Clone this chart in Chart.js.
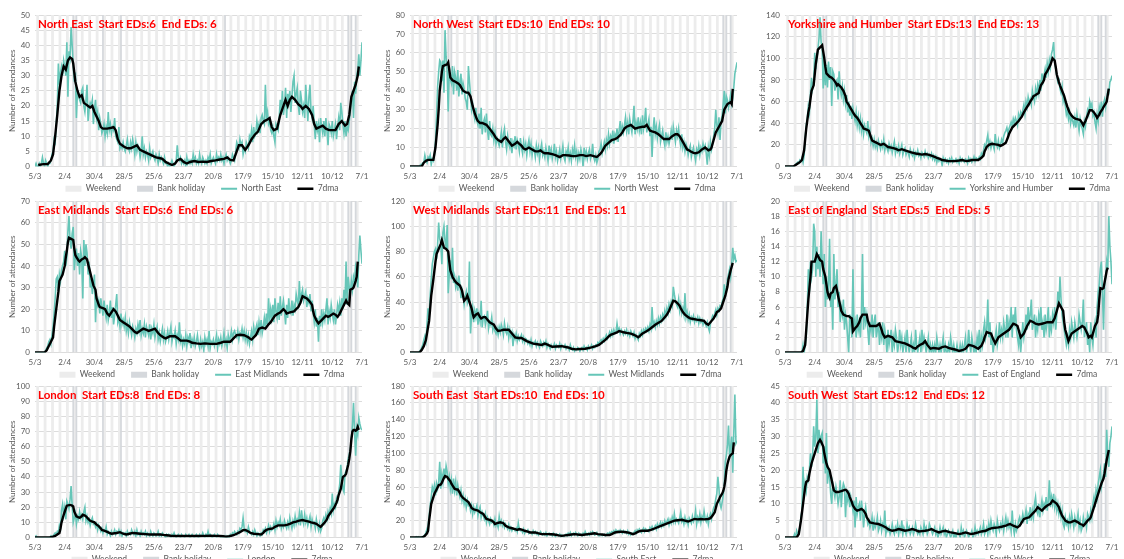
<!DOCTYPE html>
<html>
<head>
<meta charset="utf-8">
<script src="https://cdn.jsdelivr.net/npm/chart.js@4.4.0/dist/chart.umd.min.js"></script>
<style>
  body { margin: 0; background: #fff; width: 1124px; height: 559px; overflow: hidden; position: relative; }
  .panel { position: absolute; width: 374px; height: 217px; }
</style>
</head>
<body>
<script>
// x axis: day index, 0 = 5/3/2020 ... 308 = 7/1/2021
const tickLabels = ["5/3", "2/4", "30/4", "28/5", "25/6", "23/7", "20/8", "17/9", "15/10", "12/11", "10/12", "7/1"];
const dayCount = 309;
const bankHolidays = [36, 39, 64, 81, 179, 295, 298, 302];

const regionNames = ["North East", "North West", "Yorkshire and Humber", "East Midlands", "West Midlands", "East of England", "London", "South East", "South West"];
const startEDs = [6, 10, 13, 6, 11, 5, 8, 10, 12];
const endEDs = [6, 10, 13, 6, 11, 5, 8, 10, 12];
const yMax = [50, 80, 140, 70, 120, 20, 100, 180, 45];
const yStep = [5, 10, 20, 10, 20, 2, 10, 20, 5];

// daily attendances
const neDaily = [
  0,1,0,0,1,0,1, 3,1,0,2,1,0,1, 1,2,4,5,9,8,14, 20,34,27,31,33,30,35,
  33,30,41,23,38,36,46, 40,33,28,31,16,25,24, 22,21,25,26,20,18,22, 27,15,19,21,20,22,14,
  19,22,16,18,12,16,14, 11,12,14,10,13,11,18, 12,14,11,13,12,16,10, 9,8,13,6,7,6,8,
  6,5,7,9,6,5,8, 6,9,7,4,8,5,7, 6,3,5,10,4,6,3, 5,4,2,6,3,4,5,
  3,2,4,3,1,4,2, 3,2,1,3,1,1,0, 1,0,1,2,1,0,1, 2,7,3,2,3,1,2,
  1,2,0,3,1,2,1, 2,1,4,2,3,1,2, 1,4,2,1,3,2,1, 2,1,3,2,4,1,2,
  3,2,1,4,2,3,2, 4,2,3,1,3,4,2, 3,2,1,2,4,3,2, 5,8,7,6,9,7,8,
  4,6,5,8,7,6,10, 9,12,8,13,10,11,15, 12,14,11,16,17,15,14, 27,16,18,14,15,12,11,
  13,10,8,14,13,12,16, 22,18,25,17,20,26,16, 24,21,25,18,23,28,30, 21,24,26,20,17,25,22,
  18,20,16,27,21,15,23, 27,18,16,20,14,9,15, 12,14,8,16,13,11,15, 10,16,12,7,14,13,11,
  15,10,12,14,9,13,16, 12,21,18,14,11,15,10, 13,12,15,18,22,25,16, 28,24,30,32,37,30,35,
  41
];
const nwDaily = [
  0,0,0,0,0,0,0, 0,0,0,1,1,2,2, 6,3,2,5,4,6,1, 4,3,6,13,26,42,50,
  56,55,45,56,39,72,58, 50,29,52,46,44,53,38, 50,47,40,51,37,45,49, 38,44,41,36,34,30,53,
  45,38,30,33,28,25,31, 24,22,28,20,31,17,23, 25,18,28,19,14,24,17, 16,20,14,18,12,15,13,
  11,14,18,10,17,20,13, 9,16,12,10,15,7,13, 11,16,9,14,12,8,15, 10,7,13,9,12,6,11,
  14,8,12,6,10,9,5, 11,7,10,4,9,12,6, 8,5,10,7,3,11,6, 9,4,7,12,5,8,3,
  6,9,4,7,11,5,3, 8,6,10,4,7,3,9, 6,11,5,8,3,7,4, 9,6,0,10,5,8,4,
  7,9,4,6,12,5,3, 6,2,4,8,9,12,7, 10,13,9,14,11,17,12, 16,14,19,12,17,15,20,
  13,19,24,16,21,18,22, 26,19,23,17,25,21,18, 24,32,17,23,20,26,19, 23,17,27,20,24,31,18,
  22,25,16,21,5,19,26, 17,21,15,19,22,13,16, 19,14,11,18,13,16,12, 15,19,14,21,17,13,19,
  16,20,14,11,17,10,13, 8,12,10,6,9,11,5, 8,10,6,3,9,7,11, 6,10,8,12,9,11,7,
  1,10,6,13,9,12,16, 20,30,22,18,26,14,24, 27,33,40,28,37,35,31, 34,38,33,36,42,49,52,
  55
];
const yhDaily = [
  0,0,0,0,0,0,0, 0,0,1,2,3,4,3, 6,5,8,4,10,26,38, 45,56,50,68,82,72,78,
  105,90,100,108,118,138,115, 110,72,98,75,94,73,97, 80,92,56,88,85,70,78, 80,62,88,72,66,74,62,
  70,58,66,50,60,47,56, 44,54,48,42,50,38,46, 36,44,33,40,30,38,34, 31,42,28,33,22,26,19,
  25,18,22,17,24,20,16, 22,18,25,15,20,17,14, 21,16,19,13,18,23,12, 17,14,19,12,16,20,11,
  15,17,11,14,13,9,16, 12,10,14,8,13,11,15, 10,12,8,13,11,9,14, 10,12,8,11,9,12,7,
  10,6,9,4,8,5,7, 6,1,8,5,7,4,6, 3,7,5,8,4,6,5, 7,4,6,3,8,5,7,
  5,4,7,6,3,8,5, 7,4,6,9,5,8,7, 6,9,7,12,10,15,20, 18,24,29,19,23,17,22,
  20,16,30,21,18,24,17, 20,25,22,28,31,33,36, 30,35,38,41,37,44,40, 45,42,38,48,44,50,47,
  52,57,49,60,55,64,58, 62,57,70,64,60,72,66, 75,68,80,70,86,78,84, 90,82,95,88,98,92,104,
  108,115,96,90,84,78,80, 72,68,74,60,64,56,48, 52,44,50,40,46,42,38, 45,36,48,40,33,44,38,
  35,30,42,37,46,52,48, 60,55,58,47,50,41,35, 48,42,55,50,60,46,58, 62,55,64,70,68,78,80,
  84
];
const emDaily = [
  0,0,0,0,0,0,0, 0,0,0,1,2,3,5, 6,4,8,12,18,25,34, 35,28,36,33,38,40,42,
  47,40,44,56,63,52,48, 55,58,38,44,48,40,46, 36,47,44,25,52,40,50, 46,36,42,30,34,27,31,
  36,14,26,22,24,18,25, 21,17,24,19,16,22,15, 18,24,16,21,13,17,22, 27,14,16,12,18,13,15,
  12,16,10,13,9,14,11, 8,12,10,7,11,9,13, 10,15,8,11,9,13,7, 12,10,8,13,6,11,9,
  13,7,10,12,6,9,5, 8,11,6,9,5,7,10, 6,9,12,5,8,7,10, 4,8,6,14,5,7,3,
  6,4,8,3,7,5,9, 2,6,4,7,3,5,8, 4,2,6,3,5,1,7, 4,6,3,10,2,5,4,
  6,3,5,8,2,6,4, 7,3,5,9,4,6,2, 8,5,7,10,6,9,10, 8,7,10,6,9,8,11,
  7,10,6,9,5,8,4, 7,10,6,12,9,11,13, 8,14,10,15,9,12,16, 11,18,13,25,14,20,16,
  22,14,25,19,16,23,15, 26,17,21,24,19,13,22, 16,25,19,18,24,17,22, 20,27,24,22,33,23,27,
  29,24,26,28,21,25,23, 27,19,24,18,14,20,12, 16,5,17,12,20,14,18, 15,20,25,13,19,16,22,
  18,15,20,13,17,22,19, 23,17,25,20,29,24,42, 22,35,30,27,33,29,35, 33,40,38,30,45,54,47,
  41
];
const wmDaily = [
  0,0,0,0,0,0,0, 0,0,1,2,4,6,10, 13,9,22,35,28,46,58, 70,75,80,82,74,85,103,
  90,86,70,95,100,88,82, 101,47,62,73,58,83,55, 60,52,57,49,61,54,43, 50,46,38,44,48,39,42,
  72,15,30,36,24,33,28, 35,22,30,25,41,20,28, 29,22,26,33,19,24,22, 28,18,22,17,15,19,14,
  20,16,22,19,14,23,17, 15,20,12,18,13,16,5, 14,11,15,9,13,10,12, 14,9,12,8,11,10,7,
  9,6,10,5,8,7,9, 5,8,6,4,9,7,5, 8,6,9,4,7,5,3, 6,4,5,7,3,6,5,
  4,7,3,6,5,4,6, 3,5,4,2,6,3,2, 4,1,3,2,4,3,1, 3,4,2,5,3,4,2,
  5,3,4,6,3,5,4, 6,5,8,7,9,10,8, 11,9,12,14,11,13,16, 13,17,14,18,15,16,23,
  17,19,15,18,16,14,17, 15,18,14,16,13,17,15, 13,16,11,14,12,10,15, 13,17,14,18,16,19,17,
  20,17,22,19,36,21,24, 20,25,22,27,23,28,25, 30,27,33,29,35,31,38, 34,40,37,52,46,41,38,
  36,42,33,38,31,35,30, 47,28,32,26,30,24,28, 26,29,24,27,25,28,23, 27,24,26,22,25,23,21,
  24,20,17,23,26,29,27, 31,34,30,35,33,37,36, 40,43,54,46,50,58,62, 66,60,70,83,74,77,72,
  73
];
const eeDaily = [
  0,0,0,0,0,0,0, 0,0,0,0,0,0,0, 0,0,0,1,0,1,2, 6,11,8,12,10,11,17,
  16,10,14,11,13,10,16, 12,9,13,6,10,7,9, 15,6,8,3,13,7,9, 11,6,8,4,6,5,7,
  3,5,4,2,0,5,4, 2,11,3,4,2,5,3, 4,2,5,13,3,6,4, 5,3,1,4,3,5,2,
  4,5,2,3,4,1,3, 2,4,1,3,2,0,3, 1,2,3,0,2,1,3, 2,0,1,3,1,2,0,
  1,2,0,3,1,0,1, 2,0,1,0,3,1,0, 1,2,0,3,1,2,1, 0,1,2,0,1,0,1,
  0,1,0,2,1,0,1, 0,1,2,0,1,0,0, 1,0,2,1,0,1,0, 0,1,0,0,1,0,1,
  0,1,2,0,1,3,1, 0,2,1,0,1,0,2, 1,3,0,2,1,3,4, 2,3,7,2,4,1,2,
  0,1,2,3,1,2,4, 2,3,2,4,3,2,5, 2,4,3,6,2,5,4, 6,3,2,1,3,0,2,
  4,2,3,5,3,6,4, 5,7,3,4,5,2,4, 3,5,4,6,3,4,2, 5,3,4,6,2,4,3,
  5,4,6,3,5,8,6, 10,7,5,4,3,2,1, 2,1,3,2,4,3,2, 4,3,2,3,5,4,3,
  4,7,2,3,4,1,2, 0,4,2,1,3,4,2, 6,8,9,11,12,8,3, 9,10,12,11,18,14,12,
  9
];
const lonDaily = [
  0,1,0,0,0,0,0, 0,0,0,0,0,0,0, 0,1,0,1,2,3,2, 4,3,8,6,18,22,15,
  20,12,24,22,19,25,34, 21,10,13,16,9,14,12, 17,13,15,12,17,20,11, 14,10,12,8,11,13,9,
  10,7,9,5,8,6,4, 6,3,5,4,7,2,4, 3,1,4,2,3,5,2, 4,3,5,2,4,1,3,
  2,3,1,4,2,3,2, 5,3,2,4,1,5,2, 3,1,4,2,3,2,4, 1,3,2,1,4,2,1,
  3,2,1,2,4,1,2, 1,3,2,1,0,2,1, 2,1,0,2,1,3,1, 0,1,2,1,0,2,1,
  1,0,2,1,1,2,0, 1,2,1,0,1,2,1, 0,2,1,1,3,1,0, 2,1,4,1,2,1,0,
  1,2,1,0,2,1,1, 0,1,0,1,0,1,0, 1,0,2,1,3,2,4, 3,2,4,3,6,5,7,
  13,6,4,5,3,7,4, 3,2,4,2,5,3,1, 3,2,1,3,2,5,4, 6,3,5,8,4,7,5,
  6,9,5,11,7,10,8, 12,6,9,7,11,8,6, 10,7,13,9,6,11,8, 14,9,12,10,16,8,18,
  12,9,15,10,13,8,11, 14,7,12,9,10,6,12, 8,5,9,4,6,11,13, 10,15,12,17,14,19,16,
  29,18,22,20,26,24,30, 35,48,40,32,30,42,44, 46,52,55,58,65,74,89, 70,54,72,68,79,75,72,
  71
];
const seDaily = [
  0,0,0,0,0,0,1, 0,1,0,0,1,0,2, 3,6,10,14,25,38,48, 60,55,62,50,64,58,66,
  90,58,75,66,82,70,85, 78,64,72,58,68,52,70, 56,66,50,62,54,48,56, 44,50,40,46,36,44,38,
  40,32,38,28,36,30,34, 38,26,32,36,24,30,26, 22,28,18,24,20,16,22, 18,20,15,22,14,17,12,
  25,16,20,14,18,12,16, 13,10,15,9,12,8,11, 10,8,11,7,17,9,8, 9,6,10,5,8,7,9,
  5,7,6,4,8,5,7, 4,6,3,5,7,4,3, 5,3,6,2,4,5,3, 4,2,5,3,1,4,3,
  2,4,1,3,2,1,3, 4,2,5,3,6,2,4, 5,3,6,4,2,5,3, 4,2,5,3,7,4,3,
  5,3,6,4,7,5,3, 4,6,3,2,4,3,2, 3,4,2,3,5,4,6, 5,7,6,8,5,9,7,
  8,6,9,7,5,8,6, 7,5,8,4,6,3,5, 4,6,8,5,9,7,10, 8,6,9,11,7,10,8,
  9,7,12,10,13,9,11, 14,10,16,12,15,18,13, 17,14,20,16,19,22,15, 21,17,24,19,28,18,22,
  20,17,23,30,19,22,16, 24,18,21,15,23,20,17, 25,19,22,32,16,24,20, 28,18,25,21,31,22,19,
  25,16,24,28,22,30,35, 38,46,52,72,58,40,35, 42,50,62,90,98,110,133, 95,108,120,77,125,170,112,
  115
];
const swDaily = [
  0,0,0,0,0,0,0, 0,0,1,0,2,1,1, 3,6,8,21,12,16,14, 18,17,20,25,21,24,33,
  27,30,41,25,32,28,30, 31,22,27,19,31,16,20, 18,13,10,16,14,12,15, 13,10,12,17,9,14,16,
  15,6,13,11,14,9,12, 10,8,11,3,12,7,9, 10,5,11,8,3,7,9, 6,4,5,3,4,6,2,
  5,3,4,6,2,3,5, 2,4,3,8,1,3,2, 3,1,2,4,2,1,3, 2,4,1,3,2,5,1,
  3,2,1,4,2,3,1, 2,3,1,2,4,2,1, 2,1,3,2,1,4,2, 3,1,2,4,3,2,1,
  2,3,1,2,0,1,3, 1,2,3,1,2,0,1, 2,1,0,1,2,0,1, 0,1,2,1,0,3,1,
  2,0,1,2,1,0,1, 1,2,0,1,3,1,2, 1,2,3,1,2,4,1, 2,3,1,4,2,5,3,
  2,4,3,1,5,3,2, 4,3,5,2,4,6,3, 5,3,4,2,8,3,1, 4,2,3,5,6,4,5,
  7,5,6,8,4,7,6, 9,5,8,6,10,12,8, 7,10,6,9,11,8,10, 9,12,8,11,17,9,12,
  10,13,9,11,8,10,7, 9,6,8,4,3,6,4, 5,3,6,4,7,5,3, 6,4,5,7,3,5,2,
  3,6,4,5,3,7,6, 5,8,6,10,12,9,14, 12,16,18,20,15,17,19, 22,18,32,24,21,28,30,
  33
];

// 7 day moving average, [day, value] read at intervals
const ne7dma = [[3,0.5],[8,0.8],[12,0.8],[15,2],[17,4],[19,10],[21,17],[23,25],[25,30],[27,33],[29,32],[31,35],[33,36],[35,35.5],[36,34],[38,28],[40,25],[42,23],[44,23.5],[46,21],[48,20.5],[50,20],[52,19.5],[54,20],[56,18],[58,16.5],[60,15],[62,13],[64,12.5],[68,12.5],[72,12.8],[74,13],[76,12],[78,9],[80,7.5],[82,7],[84,6.5],[87,6],[90,6],[93,6.5],[96,7],[99,5.5],[102,5],[105,4.5],[108,4],[111,3.5],[114,3],[117,2.8],[120,2.5],[123,1.5],[126,1],[129,0.5],[132,1],[134,2],[137,2.5],[140,1.5],[143,1],[146,1.5],[150,1.8],[154,1.5],[158,1.6],[162,1.5],[166,1.8],[170,2],[174,2.3],[178,2.5],[181,3],[184,2.2],[187,2],[190,5],[192,7],[195,7],[198,5.5],[201,7],[204,9],[207,10.5],[210,11.5],[213,14],[216,15],[219,15.5],[221,16],[223,13],[225,12],[228,12.5],[231,17],[234,20],[236,22],[238,20],[240,22],[242,23],[245,22],[248,20.5],[250,20],[252,19],[255,20],[258,19],[261,17],[263,14],[265,12.5],[268,13],[271,13.5],[274,12.5],[277,12],[280,12],[283,12],[286,14],[289,15],[292,13.5],[294,14],[296,17],[298,23],[300,25],[302,27],[304,30],[305,33]];
const nw7dma = [[0,0],[11,0],[13,2],[15,3],[17,3.5],[20,3.5],[22,3.5],[24,10],[26,22],[27,30],[28,40],[30,50],[31,53],[33,53.5],[35,54],[36,55],[38,47],[40,45.5],[42,45],[45,44],[47,43],[50,40],[53,39],[55,39],[57,37],[59,32],[61,28],[63,25],[64,24],[66,23],[68,23],[70,22.5],[72,22],[75,20],[77,18.5],[79,17],[81,15],[83,14],[86,13],[88,14.5],[90,15.5],[92,14],[94,12.5],[96,11],[99,12],[101,13],[103,12],[105,11],[107,9.5],[109,9],[112,10],[115,9],[118,8],[121,8],[123,8.5],[125,7.5],[127,7],[130,7],[134,6.5],[137,6],[139,5.5],[141,5],[144,6],[146,6],[150,5.8],[153,5.5],[156,5.5],[160,6],[163,6],[166,5.5],[170,6],[173,5.5],[176,5],[179,6.5],[181,8],[184,11],[187,12.5],[190,14],[193,14.5],[195,15],[198,16.5],[200,18],[202,20],[204,21],[206,21.5],[208,22],[210,21],[212,20],[215,20.5],[219,21],[221,21],[223,22],[225,20],[226,19],[228,18.5],[231,18],[234,17],[237,15.5],[239,14.5],[242,14.5],[244,14.5],[247,16],[250,17],[252,17],[254,16],[255,15],[257,13],[258,12],[260,10],[261,9],[263,8.5],[264,8],[267,7.2],[269,7],[272,7.5],[275,9],[278,10],[280,9],[281,8.5],[283,9],[284,10],[286,14],[288,18],[290,20],[291,21],[293,23],[294,24],[295,27],[296,30],[298,32],[299,33],[302,34],[303,33],[304,41]];
const yh7dma = [[0,0],[8,0],[11,2],[14,4],[16,6],[18,15],[20,35],[22,50],[23,55],[25,70],[27,75],[28,85],[29,95],[31,108],[33,110],[35,112],[36,106],[37,100],[38,92],[39,86],[42,83],[44,82],[46,80],[48,77],[49,75],[50,76],[52,74],[53,73],[55,70],[57,65],[58,60],[60,57],[61,55],[63,52],[64,50],[66,47],[68,45],[70,42],[71,40],[73,37],[74,35],[77,34],[79,33],[80,30],[81,27],[82,24],[84,23],[86,22],[88,21],[90,20],[93,21],[95,19.5],[97,18],[100,17.5],[102,17],[105,16],[107,15],[110,16],[113,15],[116,14],[119,13],[123,12],[126,11.5],[129,11],[132,11.5],[135,11],[138,10],[141,9],[143,8],[146,7],[148,6],[151,5.5],[154,5],[157,5],[160,5],[164,5.5],[167,6],[169,5.5],[171,5],[174,5.5],[176,6],[179,6],[182,6],[185,8],[187,10],[188,14],[190,18],[192,20],[195,21],[198,20.5],[201,20],[203,19],[205,20],[208,22],[210,27],[211,30],[213,34],[214,36],[217,39],[220,42],[223,46],[225,50],[228,55],[230,58],[231,60],[233,63],[234,65],[236,66],[239,68],[241,75],[243,78],[244,80],[245,85],[247,88],[248,90],[250,94],[252,100],[253,99],[254,98],[255,92],[256,85],[258,78],[259,75],[261,70],[263,65],[265,58],[266,55],[268,50],[270,47],[272,45],[274,44],[276,43.5],[278,43],[280,40],[281,38],[283,42],[285,47],[287,52],[289,52],[291,50],[293,47],[294,45],[296,48],[297,50],[299,53],[300,55],[302,58],[303,60],[304,66],[305,72]];
const em7dma = [[0,0],[9,0],[11,1],[13,3],[15,5],[17,7],[18,12],[20,20],[22,28],[23,33],[25,35],[26,36],[27,38],[28,40],[29,44],[30,47],[31,51],[32,53],[34,52.5],[36,52],[37,48],[38,45],[39,44],[41,42.5],[42,42],[44,43],[46,43.5],[47,44],[49,43],[51,39],[53,35],[55,31],[57,29],[58,25],[60,22],[61,21],[64,20.5],[66,20],[68,18],[70,17],[72,18.5],[74,20],[76,19],[77,18],[79,16],[80,15],[83,14],[86,13],[89,12],[91,11],[94,9.5],[96,9],[99,10],[102,11],[105,10.5],[107,10],[110,10.5],[113,11],[116,9],[118,8],[121,7],[123,6.5],[125,7],[127,7.5],[130,7.5],[132,7.5],[135,6.5],[137,5.5],[140,5.5],[143,5.5],[146,5],[148,4.5],[152,4.2],[156,4],[160,4.2],[165,4],[168,4],[171,4],[175,4.5],[178,5],[181,5],[184,5],[187,6.5],[190,8],[193,8.2],[197,8],[199,7.5],[201,7],[203,6.2],[204,6],[206,7],[208,8],[210,10],[211,11],[214,11.5],[217,11],[220,13],[222,14],[224,15.5],[226,17],[229,18],[231,18.5],[234,20],[236,19],[237,18],[240,18.5],[244,19],[246,20],[248,21],[250,23],[252,26],[254,25.5],[256,25],[258,24],[261,22],[262,19],[263,17],[265,15],[267,13.5],[270,15],[272,16],[274,17],[276,16.5],[278,17],[281,18],[283,17.5],[285,16.5],[287,18],[288,19],[290,21],[291,22],[293,24],[294,23],[296,22],[297,29],[299,29.5],[300,30],[302,33],[303,35],[304,42]];
const wm7dma = [[0,0],[9,0],[11,2],[13,5],[15,10],[16,15],[18,25],[19,35],[20,45],[22,58],[23,65],[24,72],[25,78],[27,82],[29,86],[30,89],[31,86],[32,83],[34,82],[36,80],[37,72],[38,65],[40,60],[42,57],[44,55],[47,53],[49,49],[50,45],[51,41],[53,43],[54,45],[56,40],[58,35],[59,31],[60,28],[62,30],[64,31],[66,28],[67,27],[69,28],[71,28],[73,26],[75,24],[77,23],[79,22],[81,19],[83,17],[86,17.5],[88,18],[91,18],[93,18],[95,16],[96,15],[98,13],[99,12],[102,11.5],[105,11.5],[108,10],[110,9],[113,8],[116,7],[120,6.5],[124,6],[127,7],[130,6],[134,4.5],[138,4.8],[143,5],[146,4.5],[149,4],[152,3],[156,2.5],[160,2.8],[165,3],[168,3.5],[171,4],[175,5],[178,6],[181,8],[184,10],[187,12.5],[189,14],[192,15],[195,16],[197,17],[199,16.5],[201,16],[204,15.5],[208,15],[211,14],[213,13],[215,12],[217,13.5],[219,15],[222,16.5],[225,18],[228,20],[231,22],[234,23.5],[237,25],[240,28],[242,30],[244,33],[245,35],[247,39],[248,41],[250,40.5],[252,39],[254,37],[255,35],[257,32],[259,30],[262,28],[264,27],[267,26.5],[270,26],[274,25.5],[277,25],[279,23],[281,22],[283,24],[286,27],[288,30],[289,32],[291,33],[293,35],[295,40],[297,45],[299,52],[300,58],[302,65],[304,71]];
const ee7dma = [[0,0],[15,0],[17,0.2],[19,1],[20,3],[21,5],[22,7],[24,10],[25,12],[27,12],[28,12],[29,12.5],[30,13],[32,12.5],[33,12.2],[35,12],[36,11],[38,10],[39,9],[40,8],[41,7.5],[42,7.2],[43,7.8],[45,8],[46,8.5],[48,8.8],[49,8.2],[50,7.5],[52,6.2],[53,5.5],[55,5],[58,4.8],[60,4.8],[62,4.6],[63,4.5],[64,2.8],[66,3.2],[68,3.5],[70,4],[71,4.5],[73,5],[74,5],[77,5],[78,4.2],[80,3.5],[83,3.5],[86,3.5],[89,3.8],[91,3],[92,2.5],[94,2],[97,2.2],[101,2],[104,1.5],[107,1.4],[110,1.3],[113,1.2],[116,1],[119,0.8],[121,0.6],[123,0.5],[125,0.8],[127,1],[130,1.2],[132,1.5],[134,1],[137,0.5],[140,0.6],[145,0.5],[148,0.7],[151,0.8],[154,0.6],[157,0.5],[160,0.4],[164,0.2],[167,0.3],[170,0.5],[173,1],[176,0.9],[178,0.8],[182,0.5],[185,0.9],[187,1.5],[188,2],[190,2.7],[192,2.6],[194,2.5],[196,1.8],[198,1.2],[201,2],[204,2.3],[206,2.5],[209,2.8],[211,3],[213,3.4],[215,3.8],[217,3.7],[219,3.5],[221,2.5],[222,2],[225,2.5],[228,3.5],[231,4.2],[234,4],[236,3.8],[239,3.7],[242,3.8],[245,3.9],[247,4],[250,4],[252,4],[254,4.5],[256,5.5],[258,6.5],[260,6],[262,5.5],[263,4],[264,3],[266,2],[267,1.5],[269,2.2],[270,2.5],[273,2.8],[275,3],[278,3.3],[280,3.5],[282,3.3],[283,3],[285,2.4],[286,2],[288,2.2],[289,2],[291,3],[292,3.5],[294,4],[295,5],[296,7],[297,8.5],[299,8.4],[300,8.5],[302,10],[303,10.8],[304,11.2]];
const lon7dma = [[0,0],[14,0],[17,0.5],[19,1],[21,2],[23,3],[24,6],[25,10],[27,15],[28,17],[29,19],[30,21],[33,21.5],[35,21],[36,20.5],[37,17],[39,14],[41,13.2],[42,13],[44,14],[45,15],[47,14.5],[48,14],[50,12.5],[52,11],[54,10.5],[56,10],[58,8.5],[60,7.5],[62,6],[63,5],[65,4.5],[67,4],[70,3],[72,2.5],[75,2.8],[77,3],[80,3.5],[83,2.5],[86,2],[89,2.5],[92,3],[95,2.8],[99,2.5],[104,2.2],[108,2],[113,2],[118,2],[121,1.7],[124,1.5],[128,1.2],[133,1],[140,1],[146,1],[150,1.1],[155,1],[160,1.1],[165,1.2],[170,1.1],[174,1],[177,0.8],[180,0.5],[183,0.8],[187,1.5],[190,2.5],[193,3.5],[196,4.8],[198,5],[201,4],[203,3],[206,2.5],[210,2.2],[213,2],[215,3],[216,4],[218,5],[220,5.5],[222,5.8],[224,6],[226,7],[229,8],[232,8],[235,8],[238,8.5],[240,9],[243,10],[246,10.5],[248,11],[250,11.3],[252,11.5],[255,11],[258,10.5],[260,10],[263,9.5],[265,9],[267,8],[269,7],[271,8.5],[273,10],[275,12],[276,14],[278,16],[279,17],[281,19],[282,20],[284,23],[285,25],[286,28],[288,32],[289,36],[290,40],[292,41],[293,42],[294,45],[295,48],[296,52],[297,57],[298,65],[299,70],[300,71],[301,71],[302,70.5],[303,71],[304,73],[305,71]];
const se7dma = [[0,0],[11,0],[13,1],[14,2],[16,5],[17,8],[18,20],[19,30],[20,40],[22,48],[23,52],[25,57],[27,62],[29,63],[30,65],[31,68],[32,71],[33,73],[35,72],[36,70],[38,67],[39,64],[40,62],[42,58],[44,57],[45,57],[47,53],[48,50],[50,47],[52,45],[55,42],[57,38],[58,35],[60,33.5],[61,33],[64,32],[66,30],[69,28],[71,24],[72,22],[75,21],[77,20],[79,18],[80,16],[82,17],[85,18],[88,17],[90,14],[93,12],[96,11],[99,10],[101,9],[103,10],[106,9],[108,8],[111,7],[113,6],[116,6],[118,6],[121,5],[124,4],[127,4],[130,4],[133,3.8],[136,3.5],[140,2.5],[143,2],[146,2.5],[149,3],[152,3.5],[155,4],[158,3.5],[162,3],[165,3.5],[168,4],[171,4.5],[174,5],[177,4],[181,3.5],[184,3],[188,3],[190,4],[193,6],[196,6.5],[199,7],[202,6.5],[205,6],[208,5],[210,4],[212,5],[215,7],[218,8],[221,8],[224,8],[227,9],[231,11],[234,12.5],[237,14],[240,15.5],[243,17],[246,18.5],[249,20],[252,20.5],[256,21],[259,20],[262,19],[265,20.5],[268,22],[271,21.5],[274,22],[277,21.5],[281,22],[283,23],[285,26],[287,30],[289,40],[291,45],[292,48],[294,52],[295,55],[296,60],[297,68],[298,80],[299,87],[300,92],[301,96],[302,98],[303,99],[304,100],[305,113]];
const sw7dma = [[0,0],[11,0],[13,1],[14,3],[15,5],[16,7.5],[17,10],[18,12.5],[19,15],[20,16.5],[22,17],[23,19],[25,22],[27,24],[28,25],[30,27],[31,28],[33,29],[34,28.5],[36,27],[37,25],[39,22],[40,21],[42,20],[44,17],[46,14],[48,13.5],[50,13.5],[53,13.8],[55,14],[57,14.2],[58,14],[60,13],[61,12],[63,10.5],[64,9.5],[66,8.5],[68,8],[70,8.2],[72,8.5],[74,8],[76,7],[77,6],[79,5],[80,4.5],[84,4.2],[88,4],[92,3.5],[95,3],[97,2.5],[101,2],[104,2.2],[107,2.5],[110,2.3],[113,2],[116,2.2],[120,2.5],[123,2.2],[126,1.8],[129,1.9],[132,2],[135,2.2],[138,2.5],[141,2],[145,1.5],[148,1.8],[151,2],[155,1.6],[160,1.3],[164,1],[167,1.2],[170,1.5],[173,1.2],[175,1],[178,1.2],[182,1.5],[185,1.8],[189,2],[192,2.5],[195,2.8],[198,2.9],[201,3],[204,3.2],[208,3.5],[210,3.8],[212,4],[215,3.5],[219,3],[221,3.5],[222,4],[224,5],[225,5.5],[228,5.8],[230,6],[233,7],[236,8],[238,9],[240,8.5],[242,8],[245,9],[247,9.5],[250,10],[252,11],[254,10.5],[256,10],[258,9],[259,8],[261,6.5],[263,5.5],[264,5],[267,4.5],[269,4.5],[271,4.8],[273,5],[276,4.5],[278,4],[280,3.8],[281,3.5],[283,4.2],[285,5],[287,5.5],[288,6],[290,8],[292,10],[294,12],[296,14],[297,15],[298,16],[300,17.5],[301,19],[302,21],[303,23],[304,24.5],[305,26]];

const dailySeries = [neDaily, nwDaily, yhDaily, emDaily, wmDaily, eeDaily, lonDaily, seDaily, swDaily];
const avgSeries = [ne7dma, nw7dma, yh7dma, em7dma, wm7dma, ee7dma, lon7dma, se7dma, sw7dma];

const panelLeft = [0, 375, 750];
const panelTop = [0, 186, 371];

const teal = "#66c6b8";
const textGrey = "#595959";

// day 0 is a Thursday, so Sat/Sun fall on day % 7 == 2, 3
const weekendDays = [];
for (let d = 0; d < dayCount; d++) {
  if (d % 7 === 2 || d % 7 === 3) weekendDays.push(d);
}

Chart.defaults.font.family = "Lato";

const titlePlugin = {
  id: "panelTitle",
  afterLayout(chart) {
    // pull the legend row up under the tick labels and a little to the right
    chart.legend.top -= 14;
    chart.legend.bottom -= 14;
    chart.legend.left += 18;
    chart.legend.right += 18;
  },
  afterDraw(chart, args, opts) {
    const { ctx, chartArea } = chart;
    ctx.save();
    ctx.font = "bold 11.5px Lato";
    ctx.fillStyle = "#ff0000";
    ctx.textBaseline = "middle";
    ctx.fillText(opts.text, chartArea.left + 3, chartArea.top + 9);
    ctx.restore();
  },
};

regionNames.forEach((name, i) => {
  const div = document.createElement("div");
  div.className = "panel";
  div.style.left = panelLeft[i % 3] + "px";
  div.style.top = panelTop[Math.floor(i / 3)] + "px";
  const canvas = document.createElement("canvas");
  canvas.width = 374;
  canvas.height = 217;
  div.appendChild(canvas);
  document.body.appendChild(div);

  new Chart(canvas, {
    type: "line",
    data: {
      datasets: [
        {
          type: "bar",
          label: "Weekend",
          data: weekendDays.map((d) => ({ x: d, y: yMax[i] })),
          backgroundColor: "#ececec",
          grouped: false,
          barPercentage: 1,
          categoryPercentage: 1,
          order: 4,
        },
        {
          type: "bar",
          label: "Bank holiday",
          data: bankHolidays.map((d) => ({ x: d, y: yMax[i] })),
          backgroundColor: "#d5d8dc",
          grouped: false,
          barPercentage: 1,
          categoryPercentage: 1,
          order: 3,
        },
        {
          label: name,
          data: dailySeries[i].map((v, d) => ({ x: d, y: v })),
          borderColor: teal,
          backgroundColor: teal,
          borderWidth: 1.6,
          pointRadius: 0,
          order: 2,
        },
        {
          label: "7dma",
          data: avgSeries[i].map((p) => ({ x: p[0], y: p[1] })),
          borderColor: "#000",
          backgroundColor: "#000",
          borderWidth: 2.4,
          pointRadius: 0,
          order: 1,
        },
      ],
    },
    options: {
      responsive: false,
      animation: false,
      layout: { padding: { left: 6, right: 12, top: 15, bottom: 0 } },
      scales: {
        x: {
          type: "linear",
          min: 0,
          max: dayCount - 1,
          offset: false,
          grid: { display: false, drawTicks: false, offset: false },
          border: { display: false },
          ticks: {
            autoSkip: false,
            maxRotation: 0,
            padding: 5,
            color: textGrey,
            font: { size: 8 },
            callback: (v) => tickLabels[Math.round(v / 28)],
          },
          afterBuildTicks: (s) => {
            s.ticks = tickLabels.map((t, k) => ({ value: k * 28 }));
          },
          afterFit: (s) => { s.height = 16; },
        },
        y: {
          min: 0,
          max: yMax[i],
          grid: { color: "#dcdcdc", drawTicks: false },
          border: { display: false },
          ticks: { stepSize: yStep[i], padding: 5, color: textGrey, font: { size: 8 } },
          title: { display: true, text: "Number of attendances", color: textGrey, font: { size: 8 }, padding: { top: 2, bottom: 0 } },
          afterFit: (s) => { s.width = 29; },
        },
      },
      plugins: {
        legend: {
          position: "bottom",
          labels: {
            usePointStyle: true,
            pointStyleWidth: 16,
            boxHeight: 6,
            padding: 16,
            color: textGrey,
            font: { size: 8.5 },
            sort: (a, b) => a.datasetIndex - b.datasetIndex,
            generateLabels: (chart) => {
              const items = Chart.defaults.plugins.legend.labels.generateLabels(chart);
              items.forEach((it) => {
                if (it.datasetIndex < 2) {
                  it.pointStyle = "rect";
                  it.lineWidth = 0;
                } else {
                  it.pointStyle = "line";
                  it.lineWidth = it.datasetIndex === 2 ? 2 : 2.5;
                }
              });
              return items;
            },
          },
        },
        tooltip: { enabled: false },
        panelTitle: { text: name + "  Start EDs:" + startEDs[i] + "  End EDs: " + endEDs[i] },
      },
    },
    plugins: [titlePlugin],
  });
});
</script>
</body>
</html>
